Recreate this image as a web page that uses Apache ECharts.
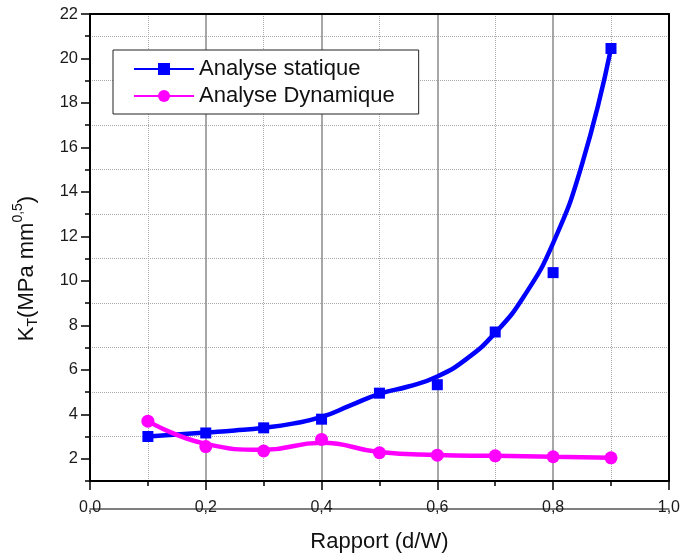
<!DOCTYPE html>
<html>
<head>
<meta charset="utf-8">
<script src="https://cdn.jsdelivr.net/npm/echarts@6/dist/echarts.min.js"></script>
<style>
html,body{margin:0;padding:0;background:#fff;}
#chart{width:683px;height:558px;}
</style>
</head>
<body>
<div id="chart"></div>
<script>
// ---- data ----
const ratios = [0.1, 0.2, 0.3, 0.4, 0.5, 0.6, 0.7, 0.8, 0.9];
const staticValues = [3.0, 3.16, 3.39, 3.78, 4.95, 5.33, 7.7, 10.37, 20.45];
const dynamicValues = [3.69, 2.55, 2.35, 2.87, 2.27, 2.16, 2.13, 2.09, 2.04];
// fitted curves as drawn in the picture (read every 0.05)
const staticCurveX = [0.1, 0.15, 0.2, 0.25, 0.3, 0.35, 0.4, 0.45, 0.5, 0.55, 0.6, 0.65, 0.7, 0.75, 0.8, 0.85, 0.9];
const staticCurveY = [3.0, 3.09, 3.18, 3.27, 3.39, 3.58, 3.88, 4.4, 4.92, 5.25, 5.7, 6.48, 7.66, 9.32, 11.7, 15.25, 20.45];
const dynCurveX = [0.1, 0.2, 0.3, 0.4, 0.5, 0.6, 0.7, 0.8, 0.9];
const dynCurveY = [3.69, 2.67, 2.40, 2.72, 2.30, 2.17, 2.13, 2.09, 2.04];
const seriesNames = ['Analyse statique', 'Analyse Dynamique'];
const yTickLabels = ['2','4','6','8','10','12','14','16','18','20','22'];
const xTickLabels = ['0,0','0,2','0,4','0,6','0,8','1,0'];

const pairs = (xs, ys) => xs.map((x, i) => [x, ys[i]]);
const yCats = [];
for (let v = 1; v <= 22; v++) yCats.push(String(v));

const FONT = 'Liberation Sans, Arial, sans-serif';
const chart = echarts.init(document.getElementById('chart'));
chart.setOption({
  animation: false,
  backgroundColor: '#fff',
  textStyle: { fontFamily: FONT },
  grid: { left: 90, right: 13, top: 14, bottom: 74, containLabel: false },
  legend: {
    data: seriesNames,
    orient: 'vertical',
    left: 113, top: 50,
    padding: [8, 24, 7, 20],
    itemWidth: 60, itemHeight: 15, itemGap: 5,
    borderColor: '#222', borderWidth: 1, backgroundColor: '#fff',
    textStyle: { fontSize: 22, color: '#111', fontFamily: FONT }
  },
  xAxis: [
    {
      type: 'value', min: 0, max: 1, interval: 0.2, position: 'bottom',
      name: 'Rapport (d/W)', nameLocation: 'middle', nameGap: 50,
      nameTextStyle: { fontSize: 22, color: '#111', fontFamily: FONT },
      axisLine: { show: true, onZero: false, lineStyle: { color: '#000', width: 2 } },
      axisTick: { show: true, inside: false, length: 9, lineStyle: { color: '#000', width: 1.5 } },
      minorTick: { show: true, splitNumber: 2, length: 5, lineStyle: { color: '#000', width: 1.5 } },
      axisLabel: { fontSize: 16, color: '#1a1a1a', margin: 19, fontFamily: FONT,
        formatter: v => xTickLabels[Math.round(v / 0.2)] },
      splitLine: { show: true, lineStyle: { color: '#8a8a8a', width: 1.5 } },
      minorSplitLine: { show: true, lineStyle: { color: '#aaa', width: 1, type: 'dotted' } }
    },
    {
      type: 'value', min: 0, max: 1, position: 'top',
      axisLine: { show: true, onZero: false, lineStyle: { color: '#000', width: 2 } },
      axisTick: { show: false }, axisLabel: { show: false }, splitLine: { show: false }
    },
    {
      type: 'value', min: 0, max: 1, position: 'bottom', offset: 28,
      axisLine: { show: true, onZero: false, lineStyle: { color: '#555', width: 1.5 } },
      axisTick: { show: false }, axisLabel: { show: false }, splitLine: { show: false }
    }
  ],
  yAxis: [
    {
      type: 'value', min: 1, max: 22, interval: 1, position: 'left',
      axisLine: { show: false },
      axisTick: { show: true, length: 5, lineStyle: { color: '#000', width: 1.5 } },
      axisLabel: { show: false },
      splitLine: { show: true, lineStyle: { color: ['#aaa', 'rgba(0,0,0,0)'], width: 1, type: 'dotted' } }
    },
    {
      type: 'category', data: yCats, boundaryGap: false, position: 'left',
      name: '{k|K}{sub|T}{k|(MPa mm}{sup|0,5}{k|)}',
      nameLocation: 'middle', nameRotate: 90, nameGap: 47,
      nameTextStyle: {
        padding: [0, 42, 0, 0],
        rich: {
          k: { fontSize: 22, color: '#111', fontFamily: FONT },
          sub: { fontSize: 14, color: '#111', fontFamily: FONT, padding: [12, 0, 0, 0] },
          sup: { fontSize: 14, color: '#111', fontFamily: FONT, padding: [0, 0, 18, 0] }
        }
      },
      axisLine: { show: true, onZero: false, lineStyle: { color: '#000', width: 2 } },
      axisTick: { show: true, length: 9, interval: (i) => i % 2 === 1, lineStyle: { color: '#000', width: 1.5 } },
      axisLabel: { fontSize: 16.5, color: '#1a1a1a', margin: 12, fontFamily: FONT,
        interval: (i) => i % 2 === 1,
        formatter: (v) => yTickLabels.indexOf(v) >= 0 ? v : '' },
      splitLine: { show: false }
    },
    {
      type: 'value', min: 1, max: 22, position: 'right',
      axisLine: { show: true, onZero: false, lineStyle: { color: '#000', width: 2 } },
      axisTick: { show: false }, axisLabel: { show: false }, splitLine: { show: false }
    }
  ],
  series: [
    {
      name: seriesNames[0], type: 'line', xAxisIndex: 0, yAxisIndex: 0,
      data: pairs(staticCurveX, staticCurveY), smooth: 0.5,
      symbol: 'rect', showSymbol: false, z: 3,
      lineStyle: { color: '#0000ff', width: 4.5 }, itemStyle: { color: '#0000ff' }
    },
    {
      name: seriesNames[1], type: 'line', xAxisIndex: 0, yAxisIndex: 0,
      data: pairs(dynCurveX, dynCurveY), smooth: true,
      symbol: 'circle', showSymbol: false, z: 3,
      lineStyle: { color: '#ff00ff', width: 4.5 }, itemStyle: { color: '#ff00ff' }
    },
    {
      name: seriesNames[0], type: 'scatter', xAxisIndex: 0, yAxisIndex: 0,
      data: pairs(ratios, staticValues), symbol: 'rect', symbolSize: 11, z: 4,
      itemStyle: { color: '#0000ff', opacity: 1 }
    },
    {
      name: seriesNames[1], type: 'scatter', xAxisIndex: 0, yAxisIndex: 0,
      data: pairs(ratios, dynamicValues), symbol: 'circle', symbolSize: 13, z: 4,
      itemStyle: { color: '#ff00ff', opacity: 1 }
    }
  ]
});
</script>
</body>
</html>
